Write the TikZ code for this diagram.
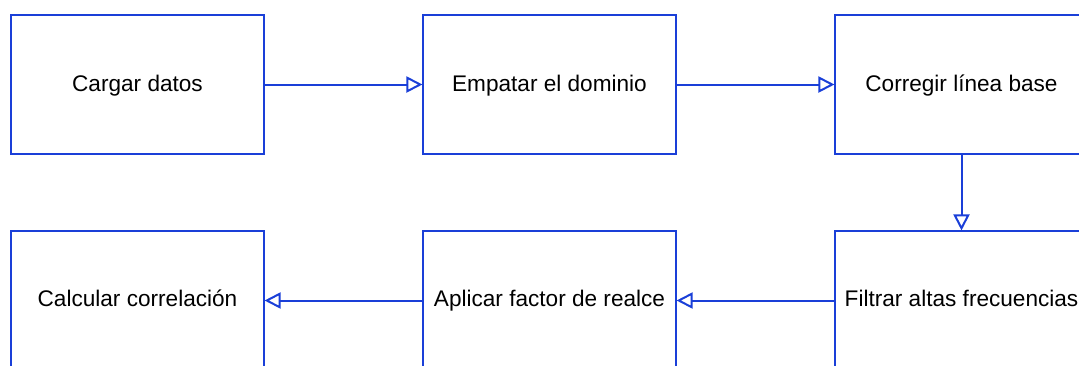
\documentclass[tikz,border=0pt]{standalone}
\usepackage{fontspec}
\setmainfont{Liberation Sans}
\usepackage{xcolor}
\usetikzlibrary{arrows.meta}
\definecolor{flowblue}{HTML}{1A3FD8}

\begin{document}
\begin{tikzpicture}[x=1pt,y=-1pt,
        paso/.style={draw=flowblue,line width=1.1pt,minimum width=253pt,minimum height=139pt,inner sep=0pt},
        rotulo/.style={anchor=base,inner sep=0pt,font=\fontsize{22.6}{27}\selectfont},
        flecha/.style={draw=flowblue,line width=2pt,-{Triangle[open,length=16pt,width=16pt,line width=2pt]}}]
                    \useasboundingbox (0,0) rectangle (1079,365);
                    \clip (0,0) rectangle (1079,365);

                    \node[paso] (cargar) at (137.5,84.5) {};
                    \node[paso] (empatar) at (549.5,84.5) {};
                    \node[paso] (corregir) at (961.5,84.5) {};
                    \node[paso] (calcular) at (137.5,300.5) {};
                    \node[paso] (aplicar) at (549.5,300.5) {};
                    \node[paso] (filtrar) at (961.5,300.5) {};

                    \node[rotulo] (cargartxt) at (137.5,91) {Cargar datos};
                    \node[rotulo] (empatartxt) at (549.5,91) {Empatar el dominio};
                    \node[rotulo] (corregirtxt) at (961.5,91) {Corregir línea base};
                    \node[rotulo] (calculartxt) at (137.5,306) {Calcular correlación};
                    \node[rotulo] (aplicartxt) at (549.5,306) {Aplicar factor de realce};
                    \node[rotulo] (filtrartxt) at (961.5,306) {Filtrar altas frecuencias};

                    \draw[flecha] (cargar) -- (empatar);
                    \draw[flecha] (empatar) -- (corregir);
                    \draw[flecha] (corregir) -- (filtrar);
                    \draw[flecha] (filtrar) -- (aplicar);
                    \draw[flecha] (aplicar) -- (calcular);
                \end{tikzpicture}
\end{document}
